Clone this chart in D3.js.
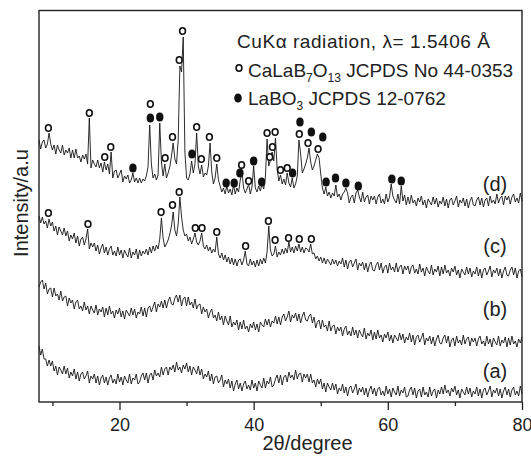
<!DOCTYPE html>
<html><head><meta charset="utf-8">
<script src="https://cdn.jsdelivr.net/npm/d3@7/dist/d3.min.js"></script>
<style>
body{margin:0;background:#fff}
svg{display:block}
text{font-family:"Liberation Sans",Arial,Helvetica,sans-serif;fill:#222}
</style>
</head><body>
<svg id="chart" width="531" height="465"></svg>
<script>
// scan grid (2theta, degrees)
const scanStart = 8, scanStep = 0.25, scanEnd = 80;

// intensities (a.u.), stacked patterns as plotted
const patternA = [
56,47,53,43,43,36,42,36,41,31,36,27,35,32,28,36,28,34,24,30,
26,33,23,30,21,28,30,23,26,31,19,26,23,28,19,26,17,24,27,19,
25,17,24,27,19,23,18,28,20,25,17,26,22,19,28,18,24,22,28,18,
20,26,29,22,29,19,27,29,22,32,26,29,25,35,27,33,35,27,35,32,
37,30,40,32,35,29,37,33,39,30,36,27,35,32,28,36,27,33,23,28,
25,31,21,28,18,25,26,19,22,27,15,22,18,23,14,21,11,18,22,13,
19,11,18,21,13,17,12,22,14,19,11,21,17,14,24,14,21,18,25,15,
17,23,27,19,27,17,25,27,20,30,24,27,22,32,23,28,29,20,28,24,
28,20,28,19,22,15,23,18,23,13,19,10,19,15,12,19,12,18,8,14,
11,18,9,15,6,14,16,9,13,18,7,14,10,15,7,14,5,12,16,8,
14,6,13,15,7,11,6,16,8,13,5,14,10,7,16,6,12,9,15,5,
6,12,15,7,14,4,11,13,5,15,7,10,5,15,6,11,13,4,12,8,
15,8,17,9,12,6,14,10,16,7,12,4,13,10,7,15,8,14,5,11,
8,15,6,13,4,12,14,7,11,16,5,12,9,14,6,13,4,11,15,7,
13,5,12,15,7,11,6,16,8];

const patternB = [
115,120,122,113,119,108,113,114,105,114,106,108,102,111,101,105,106,96,104,99,
102,93,100,102,93,96,91,100,92,96,88,96,92,89,97,87,93,90,95,85,
94,87,96,88,91,84,92,88,94,85,91,83,92,89,86,94,87,93,84,90,
88,95,86,94,85,94,96,90,95,100,90,98,95,101,94,102,94,101,105,98,
97,104,107,100,107,96,103,105,96,105,97,100,94,103,93,97,98,88,95,90,
93,84,90,93,84,87,81,90,82,86,77,86,81,77,86,75,80,77,82,72,
80,73,82,73,76,70,78,74,80,72,78,70,80,77,75,83,77,83,75,81,
79,86,78,85,77,85,88,81,85,91,80,87,84,89,81,88,79,86,90,82,
81,86,88,79,85,74,80,82,73,82,75,77,71,81,71,76,77,68,75,71,
75,66,73,76,67,71,66,75,67,72,64,72,68,65,74,63,69,66,72,62,
70,63,72,64,67,60,68,64,70,61,67,59,67,64,61,69,62,68,59,65,
62,69,60,67,57,65,67,60,64,69,57,64,61,66,58,65,56,63,67,59,
58,64,67,59,66,55,62,64,56,66,59,62,57,67,58,63,65,56,64,60,
64,56,63,66,58,61,56,66,58,63,55,64,60,57,66,56,62,59,65,55,
64,57,66,58,61,55,63,59,65];

const patternC = [
186,179,185,178,181,174,183,176,180,171,176,167,175,171,167,174,166,171,161,167,
163,169,159,166,156,163,165,157,163,173,153,159,155,159,151,157,148,154,158,149,
155,147,153,156,147,151,146,155,147,152,144,152,148,145,154,144,150,147,153,143,
152,146,151,148,153,147,155,149,156,151,157,153,163,184,164,155,158,162,168,176,
190,172,166,178,205,185,172,166,168,161,165,158,163,169,160,157,161,169,156,153,
157,151,155,149,153,150,165,148,144,149,142,147,140,145,138,144,137,143,136,142,
143,137,142,151,138,136,143,137,141,135,142,136,143,138,144,139,150,176,152,146,
148,156,145,150,147,153,148,154,149,160,150,155,149,156,151,158,150,155,149,154,
153,150,158,148,149,143,146,141,145,139,144,138,143,140,137,143,138,142,136,141,
138,144,135,142,133,140,142,135,139,143,132,139,136,140,132,139,130,137,140,132,
131,137,140,132,139,129,135,137,129,139,132,135,130,139,130,135,137,128,136,132,
136,128,135,137,129,133,128,138,130,134,126,135,131,128,137,127,133,130,136,126,
135,128,137,129,132,126,134,130,136,127,132,124,133,130,127,135,128,134,125,131,
128,135,126,133,124,132,134,127,131,136,125,132,129,134,126,133,124,131,135,127,
126,132,135,127,134,124,131,133,125];

const patternD = [
262,253,260,262,254,258,269,258,252,257,248,257,252,249,257,247,252,249,254,244,
252,244,253,244,246,240,247,243,248,238,284,234,242,238,235,242,234,239,230,240,
232,238,228,250,224,231,232,224,228,232,220,226,223,227,219,222,229,220,224,219,
224,219,223,221,226,235,277,238,224,228,222,227,279,240,226,238,224,229,235,246,
259,243,238,262,336,330,365,250,224,222,228,241,229,238,269,236,228,237,225,229,
227,236,259,230,218,224,238,222,216,210,214,208,216,209,213,207,217,208,214,210,
222,231,214,209,213,218,208,215,236,214,210,216,211,218,213,225,263,236,242,250,
241,264,233,221,227,218,223,217,229,219,215,224,214,218,226,262,248,229,233,238,
244,254,240,232,236,242,248,244,228,214,208,215,206,210,204,209,206,217,205,208,
202,208,210,214,209,199,205,207,199,209,212,205,200,210,200,205,207,198,206,202,
206,198,205,208,199,203,198,208,200,205,218,206,202,199,208,198,216,201,207,197,
205,198,207,199,202,196,204,200,206,197,202,194,203,200,197,205,198,204,195,201,
198,205,196,203,194,202,204,197,201,206,195,202,199,204,196,203,194,201,205,197,
196,202,205,197,204,195,202,204,196,206,199,202,198,208,199,204,206,197,206,202,
206,198,205,208,200,204,199,209,201];

const patternNames = ["(a)","(b)","(c)","(d)"];

// phase markers: [2theta, intensity]
const caLaB7O13MarksD = [[9.4,274],[15.5,289],[17.8,245],[18.7,255],[24.6,298],[26.8,244],[27.9,265],[28.9,342],[29.4,371],[31.5,275],[32.2,243],[33.4,265],[34.5,244],[38.2,237],[39.25,221],[42.0,269],[42.4,245],[42.8,255],[43.2,270],[44.0,232],[45.0,234],[46.8,268],[48.1,259],[49.6,253]];
const laBO3MarksD = [[22.0,234],[24.6,284],[26.0,285],[30.8,248],[35.9,219],[37.1,219],[37.95,229],[40.0,241],[41.2,220],[45.8,229],[46.9,280],[48.6,270],[50.3,265],[50.8,220],[52.2,224],[53.75,219],[55.6,216],[60.6,223],[62.0,221]];
const caLaB7O13MarksC = [[9.4,189],[15.3,178],[26.2,190],[27.9,197],[28.9,210],[31.3,174],[32.3,174],[34.5,170],[38.8,156],[42.2,181],[43.2,162],[45.2,164],[46.8,163],[48.6,163]];

const xMajorTicks = [20,40,60,80];
const xMinorTicks = [10,30,50,70];
const xTitle = "2θ/degree";
const yTitle = "Intensity/a.u";

// ---------- drawing ----------
const svg = d3.select("#chart");
const L = 39, R = 522, T = 10.5, B = 402;
const x = d3.scaleLinear().domain([scanStart, scanEnd]).range([L, R]);
const y = d3.scaleLinear().domain([0, 392]).range([B, B - 392]);

const grid = d3.range(patternA.length).map(i => scanStart + i * scanStep);
const line = d3.line().x((d, i) => x(grid[i])).y(d => y(d));

const patterns = [patternA, patternB, patternC, patternD];
svg.append("g").selectAll("path").data(patterns).join("path")
  .attr("d", d => line(d))
  .attr("fill", "none").attr("stroke", "#151515").attr("stroke-width", 0.9)
  .attr("stroke-linejoin", "miter");

// markers
const mk = svg.append("g");
function openMarks(arr) {
  mk.selectAll(null).data(arr).join("ellipse")
    .attr("cx", d => x(d[0])).attr("cy", d => y(d[1]))
    .attr("rx", 2.9).attr("ry", 3.3)
    .attr("fill", "#fff").attr("stroke", "#111").attr("stroke-width", 1.6);
}
function filledMarks(arr) {
  mk.selectAll(null).data(arr).join("ellipse")
    .attr("cx", d => x(d[0])).attr("cy", d => y(d[1]))
    .attr("rx", 3.7).attr("ry", 4.5).attr("fill", "#111");
}
openMarks(caLaB7O13MarksD);
filledMarks(laBO3MarksD);
openMarks(caLaB7O13MarksC);

// frame
svg.append("rect").attr("x", L).attr("y", T).attr("width", R - L).attr("height", B - T)
  .attr("fill", "none").attr("stroke", "#222").attr("stroke-width", 1.4);

// x axis
const gMaj = svg.append("g").attr("transform", `translate(0,${B})`)
  .call(d3.axisBottom(x).tickValues(xMajorTicks).tickSize(8).tickFormat(d3.format("d")));
gMaj.select(".domain").remove();
gMaj.selectAll("line").attr("stroke", "#222").attr("stroke-width", 1.3);
gMaj.selectAll("text").attr("y", 29).attr("dy", null)
  .style("font-size", "18px").attr("fill", "#222");
const gMin = svg.append("g").attr("transform", `translate(0,${B})`)
  .call(d3.axisBottom(x).tickValues(xMinorTicks).tickSize(4).tickFormat(""));
gMin.select(".domain").remove();
gMin.selectAll("line").attr("stroke", "#222").attr("stroke-width", 1.3);

// titles
svg.append("text").attr("x", 307.5).attr("y", 450).attr("text-anchor", "middle")
  .style("font-size", "20px").text(xTitle);
svg.append("text").attr("transform", "translate(28,203) rotate(-90)").attr("text-anchor", "middle")
  .style("font-size", "20px").text(yTitle);

// pattern labels
const labelPos = [[495, 378], [495, 316], [495, 253], [495, 191]];
svg.append("g").selectAll("text").data(patternNames).join("text")
  .attr("x", (d, i) => labelPos[i][0]).attr("y", (d, i) => labelPos[i][1])
  .attr("text-anchor", "middle").style("font-size", "20px").text(d => d);

// legend
const lg = svg.append("g").style("font-size", "19px");
lg.append("text").attr("x", 237).attr("y", 48)
  .attr("textLength", 253).attr("lengthAdjust", "spacing")
  .text("CuKα radiation, λ= 1.5406 Å");
lg.append("ellipse").attr("cx", 239).attr("cy", 68).attr("rx", 2.9).attr("ry", 3.3)
  .attr("fill", "#fff").attr("stroke", "#111").attr("stroke-width", 1.6);
const t2 = lg.append("text").attr("x", 248).attr("y", 77);
t2.append("tspan").text("CaLaB");
t2.append("tspan").attr("dy", 5).style("font-size", "12px").text("7");
t2.append("tspan").attr("dy", -5).text("O");
t2.append("tspan").attr("dy", 5).style("font-size", "12px").text("13");
t2.append("tspan").attr("dy", -5).text(" JCPDS No 44-0353");
lg.append("ellipse").attr("cx", 238).attr("cy", 98).attr("rx", 3.8).attr("ry", 4.6).attr("fill", "#111");
const t3 = lg.append("text").attr("x", 248).attr("y", 105);
t3.append("tspan").text("LaBO");
t3.append("tspan").attr("dy", 5).style("font-size", "12px").text("3");
t3.append("tspan").attr("dy", -5).text(" JCPDS 12-0762");
</script>
</body></html>
